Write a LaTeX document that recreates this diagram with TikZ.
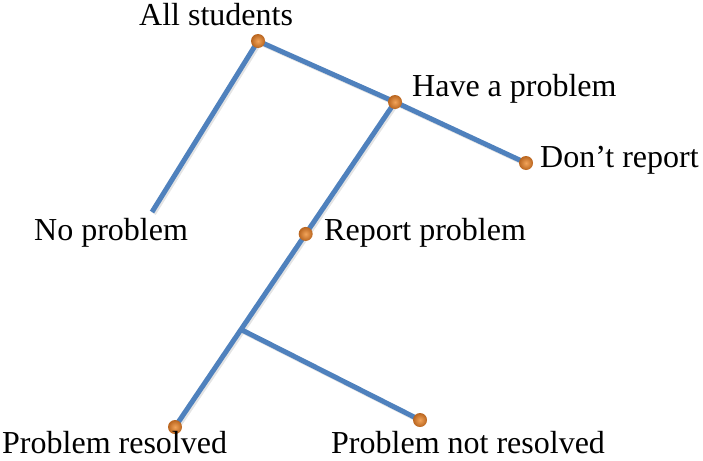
\documentclass[tikz,border=0pt]{standalone}
\usepackage{fontspec}
\setmainfont{Liberation Serif}
\usetikzlibrary{calc}
\definecolor{linkblue}{HTML}{4F81BD}
\definecolor{dotdark}{HTML}{B9651F}
\definecolor{dotlight}{HTML}{F2A45A}
\tikzset{
  link/.style={linkblue, line width=5pt,
    preaction={draw=black!30, opacity=0.35, line width=5pt,
      transform canvas={xshift=1.6pt,yshift=-1.6pt}}},
  dot/.style={circle, inner sep=0pt, minimum size=14pt,
    inner color=dotlight, outer color=dotdark},
  lbl/.style={anchor=base west, inner sep=0pt,
    font=\fontsize{32pt}{37pt}\selectfont}
}
\begin{document}
\begin{tikzpicture}[x=1pt,y=-1pt]
\useasboundingbox (0,0) rectangle (703,460);
%points
\coordinate (all) at (258,41);
\coordinate (have) at (395,102);
\coordinate (dont) at (526,163);
\coordinate (noend) at (152,212);
\coordinate (resolved) at (175,427);
\coordinate (notres) at (420,420);
\coordinate (report) at ($(have)!0.406!(resolved)$);
\coordinate (junc) at ($(have)!0.7!(resolved)$);
%branches
\draw [link] (all) -- (noend);
\draw [link] (all) -- (have) -- (dont);
\draw [link] (have) -- (resolved);
\draw [link] (junc) -- (notres);
%dots
\node [dot] (allDot) at (all) {};
\node [dot] (haveDot) at (have) {};
\node [dot] (dontDot) at (dont) {};
\node [dot] (reportDot) at (report) {};
\node [dot] (resolvedDot) at (resolved) {};
\node [dot] (notresDot) at (notres) {};
%labels
\node [lbl] (allL) at (139,26) {All students};
\node [lbl] (haveL) at (412,96) {Have a problem};
\node [lbl] (dontL) at (540,167) {Don’t report};
\node [lbl] (noL) at (34,240) {No problem};
\node [lbl] (reportL) at (324,240) {Report problem};
\node [lbl] (resolvedL) at (2,453) {Problem resolved};
\node [lbl] (notresL) at (331,453) {Problem not resolved};
\end{tikzpicture}
\end{document}
